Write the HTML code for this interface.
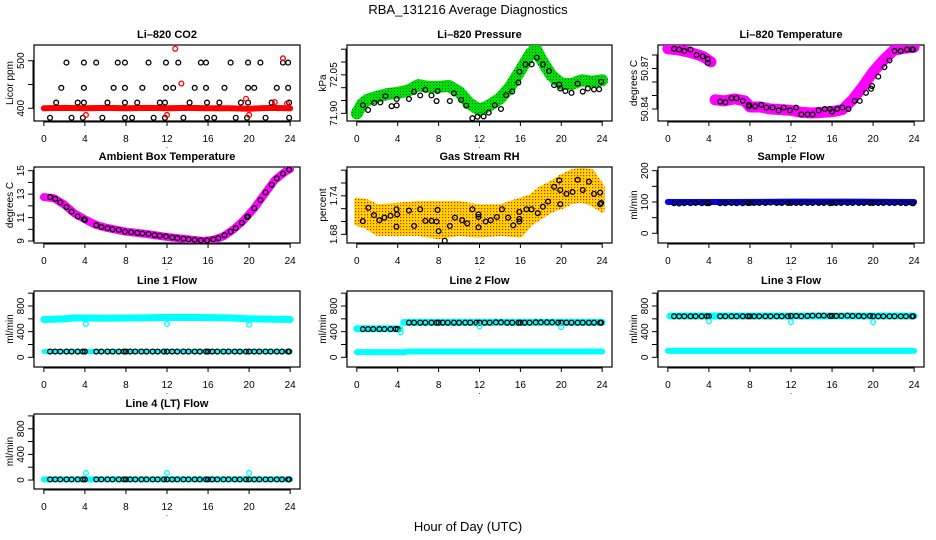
<!DOCTYPE html>
<html><head><meta charset="utf-8"><style>
html,body{margin:0;padding:0;background:#fff;}
svg{display:block;font-family:"Liberation Sans",sans-serif;}
</style></head><body>
<svg id="chart" width="936" height="540" viewBox="0 0 936 540" xmlns="http://www.w3.org/2000/svg">
<defs>
<pattern id="greenDots" width="3" height="3" patternUnits="userSpaceOnUse"><rect width="3" height="3" fill="#00e000"/><rect x="1" y="1" width="1" height="1" fill="#063"/></pattern>
<pattern id="rhDots" width="3" height="3" patternUnits="userSpaceOnUse"><rect width="3" height="3" fill="#ffd700"/><rect x="1" y="1" width="1.2" height="1.2" fill="#e02000"/></pattern>
</defs>
<text x="468" y="14" text-anchor="middle" font-size="13">RBA_131216  Average Diagnostics</text>
<text x="468" y="531" text-anchor="middle" font-size="13">Hour of Day (UTC)</text>
</svg>
<script>
// ---------- data ----------
const xTicks = [0,4,8,12,16,20,24];
const flowHours = [0.6,1.1,1.6,2.2,2.7,3.3,3.8,4.0, 5.1,5.6,6.2,6.7,7.3,7.8,8.0, 8.4,8.9,9.5,10.0,10.6,11.1,11.7,12.0, 12.5,13.0,13.6,14.1,14.7,15.2,15.8,16.0, 16.4,16.9,17.5,18.0,18.6,19.1,19.7,20.0, 20.5,21.0,21.6,22.1,22.7,23.2,23.8,23.9];

const co2Band = [[0,400],[2,401],[4,400],[6,401],[8,400],[10,401],[12,400],[14,401],[16,400],[18,400],[20,399],[22,401],[24,400]];
const co2Red = [[12.8,525],[13.4,452],[19.7,420],[23.3,505],[4.1,386],[12,386],[20,386],[23.7,410],[22.5,413]];
const co2Black = [[2.2,496],[3.9,496],[5.1,496],[7.2,496],[7.9,496],[10.2,496],[11.9,496],[13.1,496],[15.3,496],[15.8,496],[18.2,496],[19.9,496],[21.1,496],[23.3,496],[23.8,496],
[1.7,443],[3.9,443],[6.8,443],[7.9,443],[9.6,443],[11.9,443],[12.6,443],[14.7,443],[15.8,443],[17.6,443],[19.9,443],[20.5,443],[22.7,443],[23.8,443],
[1.2,412],[3.3,412],[3.9,412],[6.2,412],[7.9,412],[9.1,412],[11.3,412],[11.8,412],[14.2,412],[15.9,412],[17.1,412],[19.2,412],[19.9,412],[22.2,412],[23.9,412],
[0.6,380],[2.7,380],[3.8,380],[5.7,380],[7.9,380],[8.6,380],[10.7,380],[11.8,380],[13.6,380],[15.9,380],[16.6,380],[18.7,380],[19.8,380],[21.6,380],[23.9,380]];

const presBand = [[0,71.90],[0.5,71.935],[1,71.952],[2,71.965],[3,71.975],[4,71.980],[5,71.988],[6,72.010],[7,72.003],[8,72.003],[9,72.007],[10,71.984],[11,71.939],[12,71.913],[13,71.932],[14,71.958],[15,72.003],[16,72.068],[17,72.133],[17.5,72.152],[18,72.113],[19,72.049],[20,72.016],[21,72.014],[22,72.029],[23,72.023],[24,72.029]];
const presBlack = [[0.6,71.932],[1.1,71.913],[1.7,71.941],[2.3,71.943],[2.8,71.967],[3.4,71.928],[3.9,71.956],[3.9,71.931],[5.1,71.956],[5.6,71.984],[6.2,71.970],[6.7,71.992],[7.3,71.970],[7.8,71.948],[7.9,71.987],[9.1,71.948],[9.5,71.978],[10.2,71.952],[10.7,71.930],[11.3,71.881],[11.8,71.887],[12.4,71.888],[12.9,71.903],[13.5,71.932],[14.1,71.917],[14.6,71.971],[15.2,71.985],[15.8,72.020],[15.9,72.062],[16.5,72.091],[17.1,72.091],[17.6,72.117],[18.2,72.091],[18.8,72.065],[19.3,72.010],[19.8,72.012],[19.9,71.997],[20.4,71.987],[21.0,71.980],[21.6,72.016],[22.1,71.985],[22.6,71.997],[23.2,71.993],[23.7,71.994],[23.9,72.023]];

const tempBandA = [[0,50.8846],[1,50.8838],[2,50.8822],[3,50.880],[3.5,50.8785],[4.2,50.8749]];
const tempBandB = [[4.6,50.8468],[5.5,50.846],[6.5,50.8475],[7.5,50.846],[8,50.8415],[9,50.8415],[10,50.840],[11,50.8395],[12,50.839],[13,50.8375],[14,50.837],[15,50.8375],[16,50.838],[17,50.8395],[18,50.8468],[19,50.8566],[20,50.8675],[21,50.8761],[22,50.8834],[23,50.885],[24,50.8858]];
const tempBlack = [[0.6,50.8846],[1.1,50.884],[1.6,50.883],[2.2,50.884],[2.8,50.880],[3.4,50.879],[3.9,50.877],[3.9,50.874],[5.1,50.8455],[5.6,50.845],[6.2,50.848],[6.7,50.848],[7.3,50.846],[7.9,50.842],[7.9,50.843],[8.5,50.842],[9.1,50.843],[9.6,50.841],[10.2,50.841],[10.8,50.839],[11.3,50.841],[11.9,50.839],[12.5,50.841],[13,50.836],[13.6,50.836],[14.1,50.836],[14.7,50.839],[15.3,50.840],[15.8,50.840],[16,50.838],[16.5,50.840],[17,50.841],[17.6,50.840],[18.2,50.846],[18.7,50.846],[19.3,50.852],[19.8,50.855],[19.9,50.857],[20.5,50.864],[21.1,50.871],[21.6,50.876],[22.1,50.883],[22.7,50.883],[23.3,50.884],[23.8,50.884],[23.9,50.884]];

const ambBand = [[0,12.75],[1,12.65],[2,12.1],[3,11.35],[4,10.85],[5,10.4],[6,10.15],[8,9.8],[10,9.6],[12,9.35],[14,9.15],[15.5,9.0],[16.5,9.1],[17.5,9.4],[18.5,10.0],[19.5,10.8],[20.5,11.8],[21.5,13.0],[22.5,14.2],[23.5,14.9],[24,15.15]];
const ambBlack = [[0.6,12.75],[1.1,12.6],[1.6,12.3],[2.2,11.9],[2.7,11.5],[3.3,11.1],[3.9,10.85],[4.0,10.8],[5.1,10.35],[5.6,10.2],[6.2,10.1],[6.7,10.0],[7.3,9.95],[7.9,9.8],[8.5,9.75],[9.1,9.7],[9.6,9.65],[10.2,9.6],[10.8,9.5],[11.3,9.45],[11.9,9.4],[12.5,9.3],[13.0,9.25],[13.6,9.2],[14.1,9.15],[14.7,9.1],[15.3,9.05],[15.9,9.05],[16.5,9.15],[17.0,9.25],[17.6,9.5],[18.2,9.8],[18.7,10.1],[19.3,10.55],[19.8,11.05],[19.9,11.1],[20.5,11.8],[21.1,12.5],[21.6,13.15],[22.2,13.8],[22.7,14.35],[23.3,14.75],[23.9,15.1]];

const rhHours = [0,1,2,4,6,8,10,12,14,16,17,18,19,20,21,22,23,24];
const rhUpper = [1.7333,1.7307,1.7229,1.7255,1.7281,1.7281,1.7281,1.7229,1.7229,1.7333,1.7384,1.7514,1.7592,1.7695,1.7773,1.7799,1.7773,1.754];
const rhLower = [1.697,1.6918,1.6814,1.6814,1.6814,1.6762,1.6814,1.6788,1.6814,1.6788,1.697,1.7073,1.7177,1.7229,1.7307,1.7333,1.7281,1.7177];
const rhBlack = [[0.58,1.7006],[1.13,1.7213],[1.68,1.710],[2.2,1.702],[2.7,1.706],[3.3,1.709],[3.88,1.719],[3.95,1.711],[3.88,1.692],[5.1,1.717],[5.6,1.693],[6.2,1.719],[6.7,1.701],[7.3,1.701],[7.8,1.700],[7.9,1.718],[8.0,1.685],[8.6,1.670],[9.1,1.693],[9.6,1.706],[10.3,1.702],[10.8,1.697],[11.3,1.719],[11.9,1.711],[11.9,1.707],[11.9,1.691],[12.6,1.700],[13.1,1.702],[13.7,1.707],[14.2,1.719],[14.8,1.706],[15.3,1.694],[15.9,1.704],[15.9,1.700],[15.9,1.715],[16.6,1.719],[17.1,1.719],[17.7,1.713],[18.2,1.723],[18.7,1.731],[19.3,1.754],[19.8,1.764],[19.9,1.749],[19.9,1.727],[20.5,1.743],[21.1,1.746],[21.6,1.765],[22.1,1.749],[22.7,1.762],[23.2,1.743],[23.8,1.745],[23.8,1.727],[23.9,1.729]];

const sampleBand = [[0,100],[6,100],[12,101],[18,101],[24,100]];
const sampleBlack = [96,95,96,96,97,96,96,96, 96,96,97,96,96,97,97, 97,97,97,98,97,97,97,97, 97,97,97,97,97,97,96,97, 97,97,97,97,97,97,97,97, 97,97,97,97,97,96,96,96];

const l1Top = [[0,590],[2,600],[3,615],[6,610],[9,615],[12,620],[15,620],[18,615],[20,600],[22,595],[24,590]];
const l1Low = [[0,90],[12,90],[24,90]];
const l1Black = [90,90,90,90,90,90,90,90, 90,90,90,90,90,90,90, 90,90,90,90,90,90,90,90, 90,90,90,90,90,90,90,90, 90,90,90,90,90,90,90,90, 90,90,90,90,90,90,90,90];
const l1Out = [[4.1,520],[12,520],[20,510]];

const l2TopA = [[0,445],[4.2,445]];
const l2TopB = [[4.6,545],[12,545],[24,545]];
const l2Low = [[0,80],[4.7,80],[4.9,90],[24,90]];
const l2Black = [440,440,440,440,440,440,440,440, 540,540,540,540,540,540,540, 540,540,540,540,540,540,540,540, 540,540,545,545,540,540,540,540, 540,540,545,545,545,545,540,540, 540,540,540,540,540,540,540,540];
const l2Out = [[4.3,390],[12,480],[20,470]];

const l3Top = [[0.2,645],[12,645],[24,645]];
const l3Low = [[0,100],[12,100],[24,100]];
const l3Black = [640,640,640,640,640,640,640,640, 640,640,640,640,640,640,640, 640,640,640,640,640,640,640,645, 645,640,645,650,650,650,645,645, 645,645,650,645,645,640,645,640, 640,640,640,640,640,640,640,640];
const l3Out = [[4,560],[12,550],[20,550]];

const l4Band = [[0,10],[12,10],[24,10]];
const l4Black = [10,10,10,10,10,10,10,10, 10,10,10,10,10,10,10, 10,10,10,10,10,10,10,10, 10,10,10,10,10,10,10,10, 10,10,10,10,10,10,10,10, 10,10,10,10,10,10,10,10];
const l4Out = [[4.1,110],[12,110],[20,110]];

// ---------- layout ----------
const cols = [[34,300],[347,612],[658,924]];
const rows = [[45,121],[167,243],[291,367],[414,489]];
const X0 = -0.96, X1 = 24.96;
const NS = 'http://www.w3.org/2000/svg';
const svg = document.getElementById('chart');
function mk(tag, attrs, parent){ const e=document.createElementNS(NS,tag); for(const k in attrs) e.setAttribute(k,attrs[k]); (parent||svg).appendChild(e); return e; }

function panel(name, title, ylab, c, r, ymin, ymax, yTicks, yLabels){
  const [l,rt]=cols[c], [t,b]=rows[r];
  const g = mk('g',{});
  
  
  const xs = h => l + (h-X0)/(X1-X0)*(rt-l);
  const ys = v => b - (v-ymin)/(ymax-ymin)*(b-t);
  const box = mk('rect',{x:l,y:t,width:rt-l,height:b-t,fill:'none',stroke:'#000','stroke-width':1.2},g);
  
  
  const tt = mk('text',{x:(l+rt)/2,y:t-7,'text-anchor':'middle','font-size':11,'font-weight':'bold'},g);
  tt.textContent = title;
  
  
  const yl = mk('text',{x:0,y:0,'text-anchor':'middle','font-size':10,transform:`translate(${l-21},${(t+b)/2}) rotate(-90)`},g);
  yl.textContent = ylab;
  
  
  const xa = mk('g',{},g);
  
  
  mk('line',{x1:xs(xTicks[0]),x2:xs(xTicks[xTicks.length-1]),y1:b+1,y2:b+1,stroke:'#000'},xa);
  xTicks.forEach(h=>{
    mk('line',{x1:xs(h),x2:xs(h),y1:b,y2:b+5,stroke:'#000'},xa);
    const tx = mk('text',{x:xs(h),y:b+21,'text-anchor':'middle','font-size':10},xa);
    tx.textContent = h;
    
    
  });
  const dot = mk('text',{x:xs(12),y:b+27,'text-anchor':'middle','font-size':8},xa);
  dot.textContent='.';
  const ya = mk('g',{},g);
  
  
  mk('line',{x1:l-1,x2:l-1,y1:ys(yTicks[0]),y2:ys(yTicks[yTicks.length-1]),stroke:'#000'},ya);
  yTicks.forEach(v=>mk('line',{x1:l-6,x2:l,y1:ys(v),y2:ys(v),stroke:'#000'},ya));
  yLabels.forEach(v=>{
    const tx = mk('text',{x:0,y:0,'text-anchor':'middle','font-size':10,transform:`translate(${l-10},${ys(v)}) rotate(-90)`},ya);
    tx.textContent = v;
    
    
  });
  const clip = 'clip-'+name;
  const cp = mk('clipPath',{id:clip},g);
  mk('rect',{x:l,y:t,width:rt-l,height:b-t},cp);
  const plot = mk('g',{'clip-path':`url(#${clip})`},g);
  
  
  return {xs,ys,plot};
}
function band(p, pts, stroke, w, nm){
  const e = mk('polyline',{points:pts.map(d=>p.xs(d[0])+','+p.ys(d[1])).join(' '),fill:'none',stroke:stroke,'stroke-width':w,'stroke-linecap':'round','stroke-linejoin':'round'},p.plot);
  
  
}
function circles(p, pts, color, nm){
  pts.forEach(d=>{
    const e = mk('circle',{cx:p.xs(d[0]),cy:p.ys(d[1]),r:2.4,fill:'none',stroke:color,'stroke-width':1.3},p.plot);
    
    
  });
}
const zipH = vals => vals.map((v,i)=>[flowHours[i],v]);
const flowTicks=[0,200,400,600,800,1000], flowLabels=[0,400,800];

let p = panel('co2','Li\u2013820 CO2','Licor ppm',0,0,373.3,533,[400,450,500],[400,500]);
band(p,co2Band,'#f00',6,'co2-raw-band');
circles(p,co2Black,'#000','co2-average-point');
circles(p,co2Red,'#f00','co2-outlier-point');

p = panel('pressure','Li\u2013820 Pressure','kPa',1,0,71.8702,72.1663,[71.90,71.95,72.00,72.05,72.10,72.15],['71.90','72.05']);
band(p,presBand,'url(#greenDots)',12,'pressure-raw-band');
circles(p,presBlack,'#000','pressure-average-point');

p = panel('li820-temp','Li\u2013820 Temperature','degrees C',2,0,50.8311,50.8874,[50.84,50.85,50.86,50.87,50.88],['50.84','50.87']);
band(p,tempBandA,'#f0f',11,'temp-raw-band');
band(p,tempBandB,'#f0f',11,'temp-raw-band');
circles(p,tempBlack,'#000','temp-average-point');

p = panel('ambient','Ambient Box Temperature','degrees C',0,1,8.831,15.316,[9,10,11,12,13,14,15],[9,11,13,15]);
band(p,ambBand,'#f0f',8,'ambient-raw-band');
circles(p,ambBlack,'#000','ambient-average-point');

p = panel('rh','Gas Stream RH','percent',1,1,1.6665,1.7849,[1.68,1.70,1.72,1.74,1.76,1.78],['1.68','1.74']);
{
  const up = rhHours.map((h,i)=>p.xs(h)+','+p.ys(rhUpper[i]));
  const lo = rhHours.map((h,i)=>p.xs(h)+','+p.ys(rhLower[i])).reverse();
  const e = mk('polygon',{points:up.concat(lo).join(' '),fill:'url(#rhDots)',stroke:'url(#rhDots)','stroke-width':5,'stroke-linejoin':'round'},p.plot);
  
  
}
circles(p,rhBlack,'#000','rh-average-point');

p = panel('sample-flow','Sample Flow','ml/min',2,1,-31,211.8,[0,50,100,150,200],[0,100,200]);
band(p,sampleBand,'#00f',6,'sample-flow-raw-band');
circles(p,zipH(sampleBlack),'#000','sample-flow-average-point');

p = panel('line1','Line 1 Flow','ml/min',0,2,-151,1034,flowTicks,flowLabels);
band(p,l1Top,'#0ff',7,'line1-raw-band');
band(p,l1Low,'#0ff',5,'line1-low-band');
circles(p,zipH(l1Black),'#000','line1-average-point');
circles(p,l1Out,'#0ff','line1-outlier-point');

p = panel('line2','Line 2 Flow','ml/min',1,2,-151,1034,flowTicks,flowLabels);
band(p,l2TopA,'#0ff',7,'line2-raw-band');
band(p,l2TopB,'#0ff',7,'line2-raw-band');
band(p,l2Low,'#0ff',6,'line2-low-band');
circles(p,zipH(l2Black),'#000','line2-average-point');
circles(p,l2Out,'#0ff','line2-outlier-point');

p = panel('line3','Line 3 Flow','ml/min',2,2,-151,1034,flowTicks,flowLabels);
band(p,l3Top,'#0ff',7,'line3-raw-band');
band(p,l3Low,'#0ff',6,'line3-low-band');
circles(p,zipH(l3Black),'#000','line3-average-point');
circles(p,l3Out,'#0ff','line3-outlier-point');

p = panel('line4','Line 4 (LT) Flow','ml/min',0,3,-140,1030,flowTicks,flowLabels);
band(p,l4Band,'#0ff',6,'line4-raw-band');
circles(p,zipH(l4Black),'#000','line4-average-point');
circles(p,l4Out,'#0ff','line4-outlier-point');
</script>
</body></html>
